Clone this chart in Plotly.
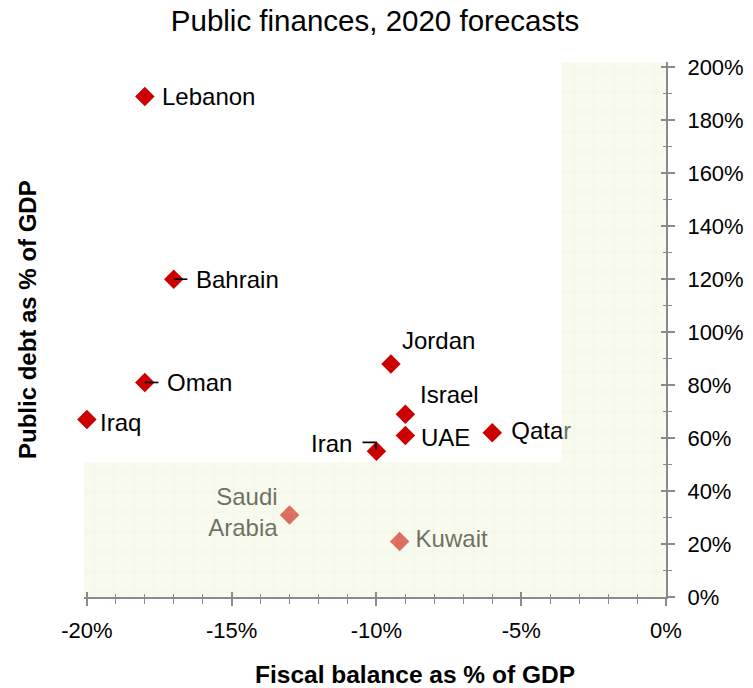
import plotly.graph_objects as go

countries = ["Lebanon", "Bahrain", "Oman", "Iraq", "Jordan", "Israel", "UAE", "Iran", "Qatar", "Saudi<br>Arabia", "Kuwait"]
fiscal_balance = [-18.0, -17.0, -18.0, -20.0, -9.5, -9.0, -9.0, -10.0, -6.0, -13.0, -9.2]
public_debt = [189, 120, 81, 67, 88, 69, 61, 55, 62, 31, 21]

x_ticks = [-20, -15, -10, -5, 0]
x_tick_text = ["-20%", "-15%", "-10%", "-5%", "0%"]
y_ticks = [0, 20, 40, 60, 80, 100, 120, 140, 160, 180, 200]
y_tick_text = [f"{v}%" for v in y_ticks]

# shaded zone (L shape)
zone_x = [-20.1, 0, 0, -3.6, -3.6, -20.1, -20.1]
zone_y = [0, 0, 202, 202, 51, 51, 0]

# label styling: (anchor side, x shift px, y shift px, drawn under the zone?)
label_style = {
    "Lebanon": ("left", 15, 0, False),
    "Bahrain": ("left", 20, 0, False),
    "Oman": ("left", 20, 0, False),
    "Iraq": ("left", 11, -3, False),
    "Jordan": ("left", 9, 23, False),
    "Israel": ("left", 13, 20, False),
    "UAE": ("left", 14, -2, False),
    "Iran": ("right", -22, 8, False),
    "Qatar": ("left", 19, 1, True),
    "Saudi<br>Arabia": ("right", -12, 0, True),
    "Kuwait": ("left", 16, 0, True),
}

X_RANGE = [-20.1, 0]
Y_RANGE = [0, 202]
FONT = "Liberation Sans, Arial, Helvetica, sans-serif"
AX_COL = "#8a8a8a"
LBL_SIZE = 24

fig = go.Figure()
idx = {c: i for i, c in enumerate(countries)}

fig.add_trace(go.Scatter(
    x=fiscal_balance, y=public_debt, mode="markers",
    marker=dict(symbol="diamond", size=15, color="#cc0000", line=dict(width=0)),
    cliponaxis=False, showlegend=False, hovertext=countries))

# leader lines (derived from the points), drawn over the markers
for name in ["Bahrain", "Oman"]:
    i = idx[name]
    fig.add_trace(go.Scatter(x=[fiscal_balance[i], fiscal_balance[i] + 0.47],
                             y=[public_debt[i], public_debt[i]],
                             mode="lines", line=dict(color="black", width=1.6),
                             hoverinfo="skip", showlegend=False))
i = idx["Iran"]
fig.add_trace(go.Scatter(x=[fiscal_balance[i] - 0.48, fiscal_balance[i] - 0.02, fiscal_balance[i] - 0.02],
                         y=[public_debt[i] + 3.4, public_debt[i] + 3.4, public_debt[i] + 0.6],
                         mode="lines", line=dict(color="black", width=1.6),
                         hoverinfo="skip", showlegend=False))

# labels that sit under the translucent zone: scatter text, offset via invisible markers
for c in [c for c in countries if label_style[c][3]]:
    i = idx[c]
    side, dx, dy, _ = label_style[c]
    fig.add_trace(go.Scatter(
        x=[fiscal_balance[i]], y=[public_debt[i]], text=[c], mode="markers+text",
        marker=dict(size=1.6 * (abs(dx) - 1), opacity=0),
        textposition="middle right" if side == "left" else "middle left",
        textfont=dict(family=FONT, size=LBL_SIZE, color="black"),
        cliponaxis=False, hoverinfo="skip", showlegend=False))

# translucent zone drawn over the points
fig.add_trace(go.Scatter(
    x=zone_x, y=zone_y, mode="lines", fill="toself",
    line=dict(width=0), fillcolor="rgba(240,244,215,0.45)",
    fillpattern=dict(shape="+", size=20, solidity=0.06,
                     fgcolor="rgba(215,225,175,0.4)", fillmode="overlay"),
    hoverinfo="skip", showlegend=False))

# invisible trace for overlay axes (crossing ticks)
fig.add_trace(go.Scatter(x=[X_RANGE[0]], y=[Y_RANGE[0]], xaxis="x2", yaxis="y2",
                         mode="markers", marker=dict(opacity=0), hoverinfo="skip",
                         showlegend=False))

annotations = []
for c in countries:
    side, dx, dy, is_under = label_style[c]
    if is_under:
        continue
    i = idx[c]
    annotations.append(dict(text=c, x=fiscal_balance[i], y=public_debt[i], xref="x", yref="y",
                            xanchor=side, yanchor="middle", xshift=dx, yshift=dy,
                            showarrow=False, font=dict(size=LBL_SIZE, family=FONT, color="black")))

PL, PR, PT, PB = 84, 87, 62, 91
PW, PH = 753 - PL - PR, 688 - PT - PB
annotations += [
    dict(text="<b>Fiscal balance as % of GDP</b>", xref="paper", yref="paper",
         x=(415 - PL) / PW, y=-(674 - (688 - PB)) / PH, xanchor="center", yanchor="middle",
         showarrow=False, font=dict(size=24.5, family=FONT)),
    dict(text="<b>Public debt as % of GDP</b>", xref="paper", yref="paper",
         x=-(PL - 27) / PW, y=((688 - PB) - 320) / PH, xanchor="center", yanchor="middle",
         textangle=-90, showarrow=False, font=dict(size=24, family=FONT)),
]

fig.update_layout(
    width=753, height=688,
    margin=dict(l=PL, r=PR, t=PT, b=PB, autoexpand=False),
    paper_bgcolor="white", plot_bgcolor="white",
    font=dict(family=FONT, color="black"),
    title=dict(text="Public finances, 2020 forecasts", x=375 / 753, xanchor="center",
               y=1 - 21 / 688, yanchor="middle", font=dict(size=29.5, family=FONT)),
    xaxis=dict(range=X_RANGE, tickvals=x_ticks, ticktext=x_tick_text, automargin=False,
               showgrid=False, zeroline=False, showline=True, linecolor=AX_COL, linewidth=2,
               ticks="outside", ticklen=7, tickwidth=1.5, tickcolor=AX_COL,
               minor=dict(dtick=1, tick0=0, ticks="outside", ticklen=5, tickcolor=AX_COL, tickwidth=1),
               tickfont=dict(size=22, family=FONT), ticklabelstandoff=6, anchor="y"),
    yaxis=dict(range=Y_RANGE, tickvals=y_ticks, ticktext=y_tick_text, side="right", automargin=False,
               showgrid=False, zeroline=False, showline=True, linecolor=AX_COL, linewidth=2,
               ticks="outside", ticklen=7, tickwidth=1.5, tickcolor=AX_COL,
               minor=dict(dtick=10, tick0=0, ticks="outside", ticklen=4, tickcolor=AX_COL, tickwidth=1),
               tickfont=dict(size=22, family=FONT), ticklabelstandoff=8, anchor="x"),
    xaxis2=dict(range=X_RANGE, overlaying="x", anchor="y", side="bottom", automargin=False,
                tickvals=x_ticks, showticklabels=False, showgrid=False, zeroline=False,
                showline=False, ticks="inside", ticklen=5, tickwidth=1.5, tickcolor=AX_COL,
                minor=dict(dtick=1, tick0=0, ticks="inside", ticklen=3, tickcolor=AX_COL, tickwidth=1)),
    yaxis2=dict(range=Y_RANGE, overlaying="y", anchor="x", side="right", automargin=False,
                tickvals=y_ticks, showticklabels=False, showgrid=False, zeroline=False,
                showline=False, ticks="inside", ticklen=5, tickwidth=1.5, tickcolor=AX_COL,
                minor=dict(dtick=10, tick0=0, ticks="inside", ticklen=3, tickcolor=AX_COL, tickwidth=1)),
    annotations=annotations,
)

fig.write_html("out.html", config={"displayModeBar": False},
               post_script="document.body.style.margin='0';document.body.style.padding='0';")
